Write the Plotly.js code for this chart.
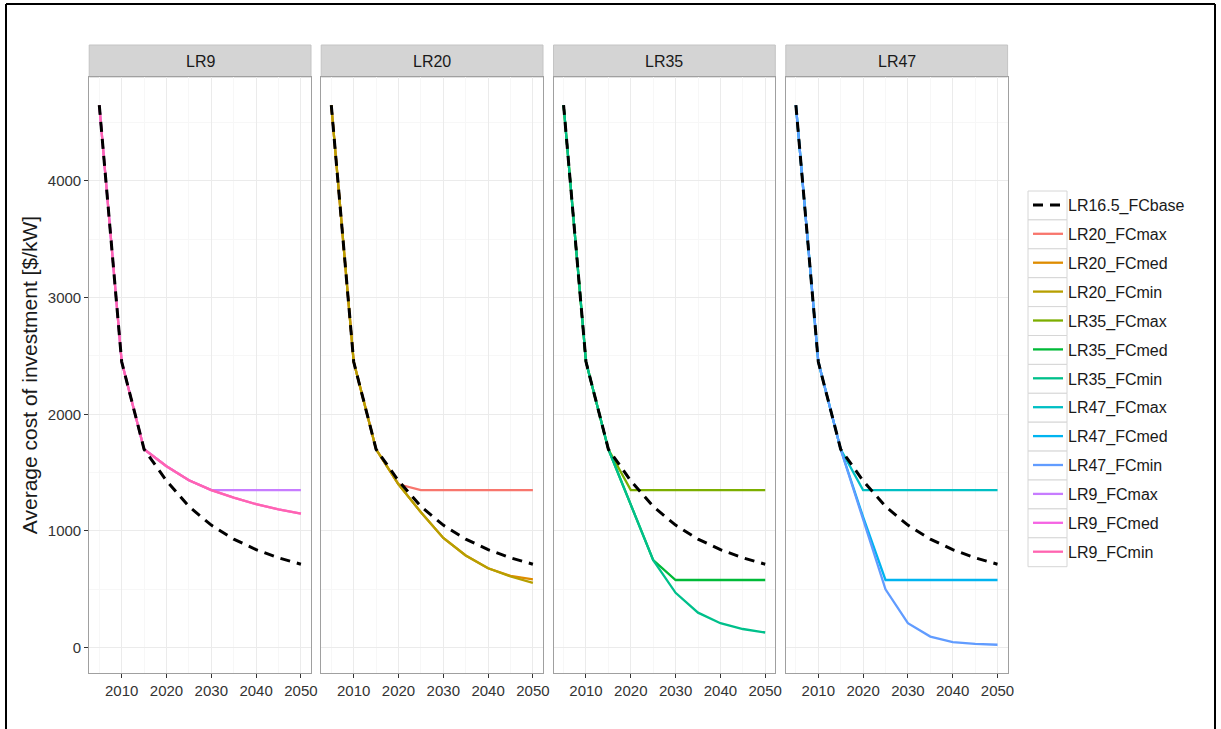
<!DOCTYPE html>
<html>
<head>
<meta charset="utf-8">
<script src="https://cdn.plot.ly/plotly-3.0.1.min.js"></script>
<style>
html,body{margin:0;padding:0;background:#fff;}
#chart{width:1221px;height:729px;}
</style>
</head>
<body>
<div id="chart"></div>
<script>
// ---- data ----
const years = [2005, 2010, 2015, 2020, 2025, 2030, 2035, 2040, 2045, 2050];
const panels = ["LR9", "LR20", "LR35", "LR47"];

const LR16_5_FCbase = [4650, 2450, 1700, 1430, 1210, 1050, 930, 840, 770, 715];

const LR9_FCmax = [4650, 2450, 1700, 1555, 1435, 1350, 1350, 1350, 1350, 1350];
const LR9_FCmed = [4650, 2450, 1700, 1555, 1435, 1350, 1285, 1230, 1185, 1148];
const LR9_FCmin = [4650, 2450, 1700, 1555, 1435, 1350, 1285, 1230, 1185, 1148];

const LR20_FCmax = [4650, 2450, 1700, 1400, 1350, 1350, 1350, 1350, 1350, 1350];
const LR20_FCmed = [4650, 2450, 1700, 1400, 1160, 940, 790, 680, 615, 585];
const LR20_FCmin = [4650, 2450, 1700, 1400, 1160, 940, 790, 680, 610, 555];

const LR35_FCmax = [4650, 2450, 1700, 1350, 1350, 1350, 1350, 1350, 1350, 1350];
const LR35_FCmed = [4650, 2450, 1700, 1230, 750, 580, 580, 580, 580, 580];
const LR35_FCmin = [4650, 2450, 1700, 1230, 750, 470, 300, 210, 160, 130];

const LR47_FCmax = [4650, 2450, 1700, 1350, 1350, 1350, 1350, 1350, 1350, 1350];
const LR47_FCmed = [4650, 2450, 1700, 1120, 580, 580, 580, 580, 580, 580];
const LR47_FCmin = [4650, 2450, 1700, 1100, 500, 210, 95, 48, 32, 25];

const xTickVals = [2010, 2020, 2030, 2040, 2050];
const yTickVals = [0, 1000, 2000, 3000, 4000];

// ---- series definitions (panel index, name, values, colour, legend rank) ----
const series = [
  [0, "LR9_FCmax", LR9_FCmax, "#C77CFF", 11],
  [0, "LR9_FCmed", LR9_FCmed, "#F564E3", 12],
  [0, "LR9_FCmin", LR9_FCmin, "#FF64B0", 13],
  [1, "LR20_FCmax", LR20_FCmax, "#F8766D", 2],
  [1, "LR20_FCmed", LR20_FCmed, "#DE8C00", 3],
  [1, "LR20_FCmin", LR20_FCmin, "#B79F00", 4],
  [2, "LR35_FCmax", LR35_FCmax, "#7CAE00", 5],
  [2, "LR35_FCmed", LR35_FCmed, "#00BA38", 6],
  [2, "LR35_FCmin", LR35_FCmin, "#00C08B", 7],
  [3, "LR47_FCmax", LR47_FCmax, "#00BFC4", 8],
  [3, "LR47_FCmed", LR47_FCmed, "#00B4F0", 9],
  [3, "LR47_FCmin", LR47_FCmin, "#619CFF", 10]
];

const W = 1221, H = 729;
const px = v => v / W;
const py = v => 1 - v / H;

const xDomains = [[89.2, 311], [321.2, 543], [553.5, 775.3], [785.8, 1007.6]];
const yDomain = [py(673), py(77)];

const traces = [];
series.forEach(s => {
  const i = s[0];
  traces.push({
    type: "scatter", mode: "lines",
    x: years, y: s[2], name: s[1],
    xaxis: i === 0 ? "x" : "x" + (i + 1),
    yaxis: i === 0 ? "y" : "y" + (i + 1),
    line: {color: s[3], width: 2.3},
    legendgroup: s[1], legendrank: s[4],
    hoverinfo: "x+y+name"
  });
});
for (let i = 0; i < 4; i++) {
  traces.push({
    type: "scatter", mode: "lines",
    x: years, y: LR16_5_FCbase, name: "LR16.5_FCbase",
    xaxis: i === 0 ? "x" : "x" + (i + 1),
    yaxis: i === 0 ? "y" : "y" + (i + 1),
    line: {color: "#000000", width: 3, dash: "10px,7px"},
    legendgroup: "base", legendrank: 1,
    showlegend: i === 0
  });
}

const FONT = "Liberation Sans, Arial, sans-serif";
const layout = {
  width: W, height: H,
  margin: {l: 0, r: 0, t: 0, b: 0},
  paper_bgcolor: "#ffffff", plot_bgcolor: "#ffffff",
  font: {family: FONT, size: 15, color: "#333333"},
  showlegend: true,
  legend: {
    x: px(1028), y: py(188), xanchor: "left", yanchor: "top",
    traceorder: "grouped", tracegroupgap: 5.1,
    font: {family: FONT, size: 16, color: "#1a1a1a"},
    bgcolor: "rgba(0,0,0,0)", borderwidth: 0, itemwidth: 30
  },
  shapes: [], annotations: []
};

for (let i = 0; i < 4; i++) {
  const xa = i === 0 ? "xaxis" : "xaxis" + (i + 1);
  const ya = i === 0 ? "yaxis" : "yaxis" + (i + 1);
  const yId = i === 0 ? "y" : "y" + (i + 1);
  const xId = i === 0 ? "x" : "x" + (i + 1);
  layout[xa] = {
    domain: [px(xDomains[i][0]), px(xDomains[i][1])],
    anchor: yId, range: [2002.75, 2052.25],
    tickvals: xTickVals, ticktext: xTickVals.map(String),
    ticks: "outside", ticklen: 4, tickwidth: 1, tickcolor: "#333333",
    showgrid: true, gridcolor: "#EBEBEB", gridwidth: 1,
    minor: {dtick: 5, tick0: 2005, showgrid: true, gridcolor: "#F7F7F7", ticks: ""},
    showline: true, mirror: true, linecolor: "#A0A0A0", linewidth: 1,
    zeroline: false, fixedrange: true,
    tickfont: {family: FONT, size: 15, color: "#333333"}
  };
  layout[ya] = {
    domain: yDomain, anchor: xId, range: [-217, 4890],
    tickvals: yTickVals, ticktext: yTickVals.map(String),
    ticks: i === 0 ? "outside" : "", ticklen: 4, tickwidth: 1, tickcolor: "#333333",
    showticklabels: i === 0,
    showgrid: true, gridcolor: "#EBEBEB", gridwidth: 1,
    minor: {dtick: 500, tick0: 500, showgrid: true, gridcolor: "#F7F7F7", ticks: ""},
    showline: true, mirror: true, linecolor: "#A0A0A0", linewidth: 1,
    zeroline: false, fixedrange: true,
    tickfont: {family: FONT, size: 15, color: "#333333"}
  };
  if (i === 0) {
    layout[ya].title = {text: "Average cost of investment [$/kW]", standoff: 4,
      font: {family: FONT, size: 21, color: "#1a1a1a"}};
  } else {
    layout[ya].matches = "y";
  }
  // facet strip
  layout.shapes.push({
    type: "rect", xref: "paper", yref: "paper",
    x0: px(xDomains[i][0]), x1: px(xDomains[i][1]),
    y0: py(77), y1: py(45),
    fillcolor: "#D4D4D4", line: {color: "#C4C4C4", width: 1}, layer: "below"
  });
  layout.annotations.push({
    xref: "paper", yref: "paper",
    x: (px(xDomains[i][0]) + px(xDomains[i][1])) / 2, y: py(61),
    text: panels[i], showarrow: false, xanchor: "center", yanchor: "middle",
    font: {family: FONT, size: 16, color: "#1a1a1a"}
  });
}

// legend key boxes
for (let k = 0; k < 13; k++) {
  const top = 191 + k * 28.9;
  layout.shapes.push({
    type: "rect", xref: "paper", yref: "paper",
    x0: px(1028), x1: px(1067), y0: py(top + 28.9), y1: py(top),
    fillcolor: "#ffffff", line: {color: "#D6D6D6", width: 1}, layer: "below"
  });
}

// outer frame of the figure
layout.shapes.push({type: "line", xref: "paper", yref: "paper", x0: px(6), x1: px(6), y0: 0, y1: py(4), line: {color: "#000", width: 2}});
layout.shapes.push({type: "line", xref: "paper", yref: "paper", x0: px(6), x1: px(1215), y0: py(4), y1: py(4), line: {color: "#000", width: 2}});
layout.shapes.push({type: "line", xref: "paper", yref: "paper", x0: px(1215), x1: px(1215), y0: 0, y1: py(4), line: {color: "#000", width: 2}});

Plotly.newPlot("chart", traces, layout, {displayModeBar: false, staticPlot: true});
</script>
</body>
</html>
